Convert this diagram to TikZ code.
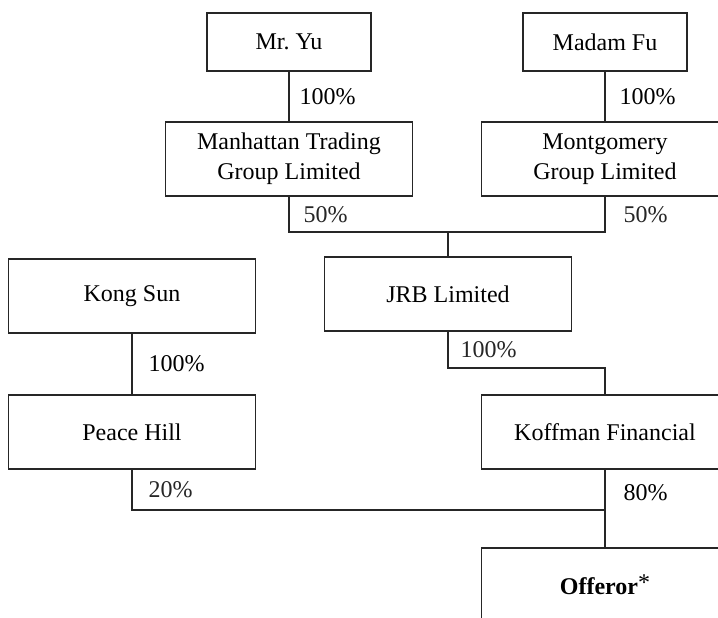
\documentclass[tikz,border=0pt]{standalone}
\usepackage{fontspec}
\setmainfont{Liberation Serif}

\begin{document}
\begin{tikzpicture}[x=0.5pt, y=-0.5pt, line width=0.6pt,
    font=\fontsize{12}{15}\selectfont,
    owner/.style={rectangle, draw=black!85, minimum width=82pt, minimum height=29pt, inner sep=0pt, align=center},
    firm/.style={owner, minimum width=123.5pt, minimum height=37pt},
    pct/.style={anchor=west, inner sep=0pt, xshift=7pt}]
      \useasboundingbox (0,0) rectangle (718,617);
      \clip (0,0) rectangle (718,617);

      \node[owner, name=yu] at (289,42) {Mr.\ Yu};
      \node[owner, name=fu] at (605,42) {Madam Fu};
      \node[firm, name=manh] at (289,159) {Manhattan Trading\\Group Limited};
      \node[firm, name=mont] at (605,159) {Montgomery\\Group Limited};
      \node[firm, name=jrb] at (448,294) {JRB Limited};
      \node[firm, name=kong] at (132,296) {Kong Sun};
      \node[firm, name=peace] at (132,432) {Peace Hill};
      \node[firm, name=koff] at (605,432) {Koffman Financial};
      \node[firm, name=off] at (605,585) {\textbf{Offeror}\raisebox{2pt}{*}};

      \coordinate (j50) at (448,232);
      \coordinate (jk) at (605,368);
      \coordinate (jo) at (605,510);

      \path[draw=black!85]
         (yu) edge node[pct, xshift=-2pt] {100\%} (manh)
         (fu) edge node[pct] {100\%} (mont)
         (kong) edge node[pct, xshift=1pt] {100\%} (peace)
         (j50) edge (jrb)
         (koff) edge node[pct, pos=0.3, xshift=2pt] {80\%} (off);
      \draw[black!85] (manh) |- node[pct, pos=0.25] {50\%} (j50) -| node[pct, pos=0.75, xshift=2pt] {50\%} (mont);
      \draw[black!85] (jrb) |- node[pct, pos=0.25, xshift=-1pt] {100\%} (jk) -- (koff);
      \draw[black!85] (peace) |- node[pct, pos=0.25, xshift=1pt] {20\%} (jo);
   \end{tikzpicture}
\end{document}
